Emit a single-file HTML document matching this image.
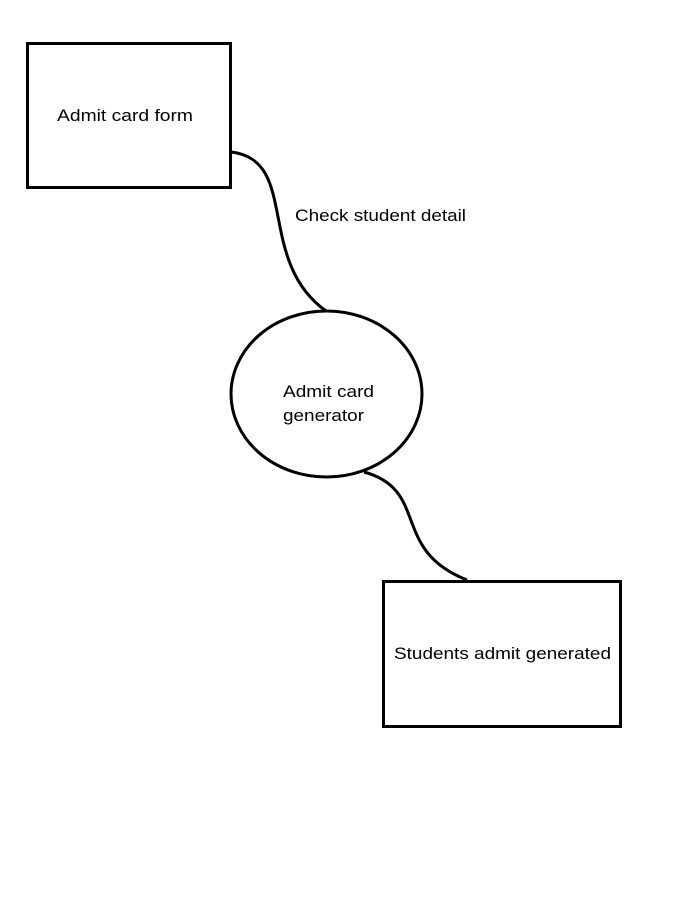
<!DOCTYPE html>
<html><head><meta charset="utf-8"><style>
html,body{margin:0;padding:0;background:#fff;}
svg{display:block;}
text{font-family:"Liberation Sans",sans-serif;font-size:17px;fill:#000;}
</style></head><body>
<svg width="691" height="903" viewBox="0 0 691 903">
<rect x="27.5" y="43.5" width="203" height="144" fill="none" stroke="#000" stroke-width="3"/>
<text x="57" y="121" textLength="136" lengthAdjust="spacingAndGlyphs">Admit card form</text>
<path d="M231 152 C 300 160, 255 260, 326 311" fill="none" stroke="#000" stroke-width="3"/>
<text x="295" y="221" textLength="171" lengthAdjust="spacingAndGlyphs">Check student detail</text>
<ellipse cx="326.5" cy="394" rx="95.5" ry="83" fill="none" stroke="#000" stroke-width="3"/>
<text x="283" y="397" textLength="91" lengthAdjust="spacingAndGlyphs">Admit card</text>
<text x="283" y="421" textLength="81" lengthAdjust="spacingAndGlyphs">generator</text>
<path d="M364 472 C 430 490, 390 550, 467 580" fill="none" stroke="#000" stroke-width="3"/>
<rect x="383.5" y="581.5" width="237" height="145" fill="none" stroke="#000" stroke-width="3"/>
<text x="394" y="659" textLength="217" lengthAdjust="spacingAndGlyphs">Students admit generated</text>
</svg>
</body></html>
